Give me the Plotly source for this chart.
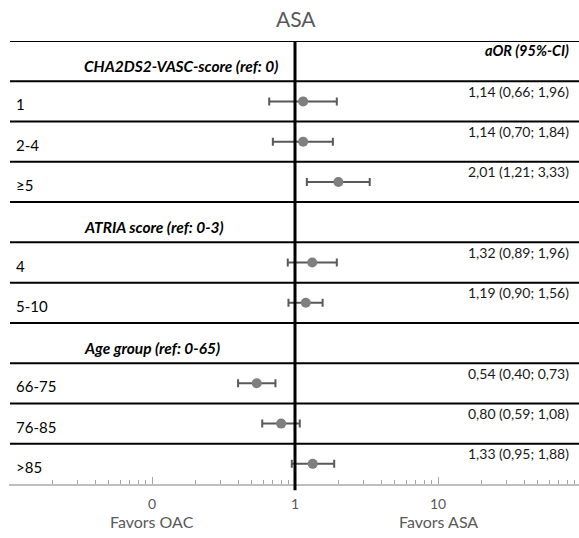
import math
import plotly.graph_objects as go

# ---------------- data ----------------
title_text = "ASA"
groups = ["CHA2DS2-VASC-score (ref: 0)", "ATRIA score (ref: 0-3)", "Age group (ref: 0-65)"]
categories = ["1", "2-4", "≥5", "4", "5-10", "66-75", "76-85", ">85"]
group_index = [0, 0, 0, 1, 1, 2, 2, 2]
aor = [1.14, 1.14, 2.01, 1.32, 1.19, 0.54, 0.80, 1.33]
ci_low = [0.66, 0.70, 1.21, 0.89, 0.90, 0.40, 0.59, 0.95]
ci_high = [1.96, 1.84, 3.33, 1.96, 1.56, 0.73, 1.08, 1.88]
value_labels = ["1,14 (0,66; 1,96)", "1,14 (0,70; 1,84)", "2,01 (1,21; 3,33)",
                "1,32 (0,89; 1,96)", "1,19 (0,90; 1,56)", "0,54 (0,40; 0,73)",
                "0,80 (0,59; 1,08)", "1,33 (0,95; 1,88)"]
column_header = "aOR (95%-CI)"
tick_values = [0.1, 1, 10]
tick_labels = ["0", "1", "10"]
favor_labels = ["Favors OAC", "Favors ASA"]
favor_positions = [0.1, 10]

# ---------------- layout of rows ----------------
rows = []  # (kind, text, idx)
last_group = None
for i, g in enumerate(group_index):
    if g != last_group:
        rows.append(("header", groups[g], None))
        last_group = g
    rows.append(("item", categories[i], i))
n_rows = len(rows)

item_y = [r for r, row in enumerate(rows) if row[0] == "item"]

W, H = 579, 538
ML, MR, MT, MB = 9, 0, 41, 54
plot_w = W - ML - MR
px_per_decade = 143
x_range = [-2, -2 + plot_w / px_per_decade]

def px_to_paper(px):
    return (px - ML) / plot_w

fig = go.Figure()

fig.add_trace(go.Scatter(
    x=aor, y=item_y, mode="markers",
    marker=dict(color="#7f7f7f", size=10),
    error_x=dict(type="data", symmetric=False,
                 array=[h - a for h, a in zip(ci_high, aor)],
                 arrayminus=[a - l for a, l in zip(aor, ci_low)],
                 color="#595959", thickness=2, width=4),
    showlegend=False, hoverinfo="skip", cliponaxis=False,
))

shapes = []
# horizontal row separators
for r in range(n_rows):
    shapes.append(dict(type="line", xref="paper", yref="y",
                       x0=px_to_paper(10), x1=1, y0=r - 0.5, y1=r - 0.5,
                       line=dict(color="#000000", width=2)))
# vertical reference line at 1
shapes.append(dict(type="line", xref="x", yref="paper", x0=1, x1=1,
                   y0=-0.014, y1=1, line=dict(color="#000000", width=3)))

annotations = []
base_font = "Lato, 'Open Sans', sans-serif"
for r, (kind, text, idx) in enumerate(rows):
    if kind == "header":
        annotations.append(dict(
            xref="paper", yref="y", x=px_to_paper(82), y=r, yshift=-5,
            xanchor="left", yanchor="middle", showarrow=False,
            text="<b><i>" + text + "</i></b>",
            font=dict(family=base_font, size=15.5, color="#000000")))
    else:
        annotations.append(dict(
            xref="paper", yref="y", x=px_to_paper(14), y=r, yshift=-3,
            xanchor="left", yanchor="middle", showarrow=False,
            text=text, font=dict(family=base_font, size=15, color="#000000")))
        annotations.append(dict(
            xref="paper", yref="y", x=px_to_paper(571), y=r, yshift=10,
            xanchor="right", yanchor="middle", showarrow=False,
            text=value_labels[idx], font=dict(family=base_font, size=14, color="#1a1a1a")))

annotations.append(dict(
    xref="paper", yref="y", x=px_to_paper(571), y=0, yshift=11,
    xanchor="right", yanchor="middle", showarrow=False,
    text="<b><i>" + column_header + "</i></b>",
    font=dict(family=base_font, size=14.5, color="#000000")))

for lbl, pos in zip(favor_labels, favor_positions):
    annotations.append(dict(
        xref="x", yref="paper", x=math.log10(pos), y=0, yshift=-37,
        xanchor="center", yanchor="middle", showarrow=False,
        text=lbl, font=dict(family=base_font, size=16, color="#595959")))

annotations.append(dict(
    xref="paper", yref="paper", x=px_to_paper(296), y=1, yshift=23,
    xanchor="center", yanchor="middle", showarrow=False,
    text=title_text, font=dict(family=base_font, size=21, color="#595959")))

minor_vals = [m * 10 ** e for e in range(-2, 2) for m in range(2, 10)] + [0.01]

fig.update_layout(
    width=W, height=H,
    margin=dict(l=ML, r=MR, t=MT, b=MB),
    paper_bgcolor="white", plot_bgcolor="white",
    shapes=shapes, annotations=annotations,
    xaxis=dict(type="log", range=x_range, showgrid=False, zeroline=False,
               showline=True, linecolor="#bfbfbf", linewidth=1.5,
               tickvals=tick_values, ticktext=tick_labels,
               ticks="inside", ticklen=7, tickcolor="#a6a6a6", tickwidth=1,
               ticklabelstandoff=6,
               tickfont=dict(family=base_font, size=14, color="#595959"),
               minor=dict(tickvals=minor_vals, ticks="inside", ticklen=4,
                          tickcolor="#a6a6a6", tickwidth=1, showgrid=False)),
    yaxis=dict(range=[n_rows - 0.5, -0.5], showgrid=False, zeroline=False,
               showticklabels=False, showline=False, ticks=""),
)

fig.write_html("out.html", config={"displayModeBar": False},
               post_script="document.body.style.margin='0';")
